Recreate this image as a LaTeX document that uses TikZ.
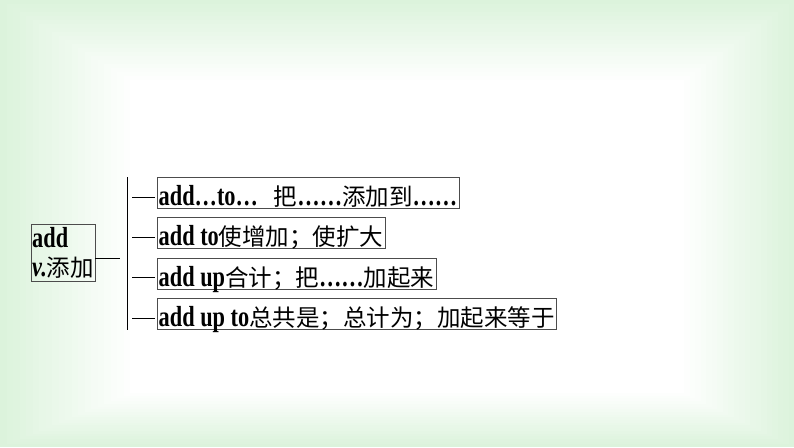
\documentclass[tikz,border=0pt]{standalone}
\usepackage{fontspec}
\setmainfont{Liberation Serif}[FakeStretch=0.77]
\newfontfamily\cjk{Noto Sans CJK SC}[Scale=0.81]
\usetikzlibrary{positioning}
\definecolor{bggreen}{RGB}{220,243,220}
\newcommand{\zh}[1]{{\cjk #1}}

\begin{document}
\begin{tikzpicture}[
        meaning/.style={draw=black!70, thin, inner xsep=1.5pt, inner ysep=1pt, text height=27pt, text depth=2pt, font=\fontsize{29}{29}\selectfont},
        headword/.style={draw=black!70, thin, align=left, inner xsep=1pt, inner ysep=1pt, minimum height=57pt, font=\fontsize{29}{29}\selectfont},
        branch/.style={black, thin}
    ]
    \useasboundingbox (0,0) rectangle (794pt,-447pt);
    \fill[bggreen] (0,0) rectangle (794pt,-447pt);
    \foreach \k [evaluate=\k as \p using int(100-5*\k)] in {1,...,20}
        \fill[bggreen!\p!white] (\k*6.5pt,-\k*4pt) rectangle (794pt-\k*5.5pt,-447pt+\k*2.7pt);

    \node[headword, anchor=north west] (add) at (31pt,-224pt) {\textbf{add}\\\textbf{\textit{v.}}\zh{添加}};
    \node[meaning, anchor=north west] (to1) at (157pt,-177pt) {\textbf{add…to…}\hspace{16pt}\zh{把}\textbf{……}\zh{添加到}\textbf{……}};
    \node[meaning, below=9pt of to1.south west, anchor=north west] (to2) {\textbf{add to}\zh{使增加；使扩大}};
    \node[meaning, below=9pt of to2.south west, anchor=north west] (up) {\textbf{add up}\zh{合计；把}\textbf{……}\zh{加起来}};
    \node[meaning, below=9pt of up.south west, anchor=north west] (upto) {\textbf{add up to}\zh{总共是；总计为；加起来等于}};

    \coordinate (spinetop) at ([xshift=-30pt]to1.north west);
    \coordinate (spinebot) at ([xshift=-30pt]upto.south west);
    \draw[branch] (spinetop) -- (spinebot);
    \draw[branch] ([yshift=-5pt]add.east) -- ++(25pt,0);
    \foreach \m in {to1,to2,up,upto}
        \draw[branch] ([xshift=-25pt,yshift=-4pt]\m.west) -- ([xshift=-2pt,yshift=-4pt]\m.west);
\end{tikzpicture}
\end{document}
